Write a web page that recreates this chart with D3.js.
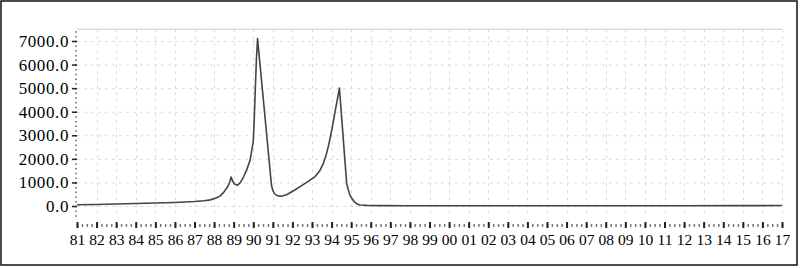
<!DOCTYPE html>
<html>
<head>
<meta charset="utf-8">
<script src="https://cdn.jsdelivr.net/npm/d3@7"></script>
<style>
  body { margin: 0; background: #fff; }
  svg { display: block; }
</style>
</head>
<body>
<svg id="chart" width="800" height="268"></svg>
<script>
// decimal year of each reading, and the value
const dates = [1981.0, 1982.0, 1983.0, 1984.0, 1985.0, 1986.0, 1987.0, 1987.5, 1987.8,
  1988.1, 1988.3, 1988.5, 1988.7, 1988.8, 1988.87, 1988.95, 1989.05, 1989.2, 1989.35,
  1989.5, 1989.65, 1989.84, 1990.0, 1990.04, 1990.1, 1990.16, 1990.22, 1990.93, 1991.0,
  1991.08, 1991.18, 1991.3, 1991.47, 1991.7, 1991.88, 1992.1, 1992.39, 1992.65, 1992.9, 1993.16,
  1993.4, 1993.58, 1993.72, 1993.86, 1994.01, 1994.2, 1994.4, 1994.77, 1994.85, 1994.93, 1995.03,
  1995.15, 1995.3, 1995.45, 1995.8, 1996.5, 1998, 2000, 2003, 2006, 2009, 2012, 2015, 2017];
const values = [50, 65, 85, 105, 125, 150, 190, 225, 260,
  340, 420, 590, 830, 1020, 1230, 1050, 930, 880, 1000,
  1230, 1500, 1950, 2730, 3440, 4840, 6200, 7100, 880, 660,
  530, 460, 425, 420, 480, 560, 670, 820, 960, 1100, 1250,
  1500, 1810, 2150, 2620, 3225, 4100, 5000, 960, 700, 480, 325,
  190, 90, 45, 25, 18, 12, 10, 12, 8, 8, 10, 15, 20];

const yearTicks = d3.range(1981, 2018);
const yearLabels = ['81','82','83','84','85','86','87','88','89','90','91','92','93','94','95',
  '96','97','98','99','00','01','02','03','04','05','06','07','08','09','10','11','12','13',
  '14','15','16','17'];
const valueTicks = [0, 1000, 2000, 3000, 4000, 5000, 6000, 7000];

const svg = d3.select('#chart');

const x = d3.scaleLinear().domain([1981, 2017]).range([77, 782]);
const y = d3.scaleLinear().domain([0, 7000]).range([206, 41]);

// outer frame
svg.append('rect')
  .attr('x', 1).attr('y', 1).attr('width', 796).attr('height', 264)
  .attr('fill', 'none').attr('stroke', '#111').attr('stroke-width', 1.5);

// top edge of the plot
svg.append('line')
  .attr('x1', x(1981)).attr('x2', x(2017))
  .attr('y1', y(7500)).attr('y2', y(7500))
  .attr('stroke', '#ccc').attr('stroke-width', 1);

// dashed grid
const grid = svg.append('g').attr('stroke', '#dcdcdc').attr('stroke-dasharray', '3,4');
grid.selectAll('line.h').data(valueTicks).enter().append('line')
  .attr('class', 'h')
  .attr('x1', x(1981)).attr('x2', x(2017))
  .attr('y1', d => y(d) + 0.5).attr('y2', d => y(d) + 0.5);
grid.selectAll('line.v').data(yearTicks.slice(1)).enter().append('line')
  .attr('class', 'v')
  .attr('x1', d => Math.round(x(d)) + 0.5).attr('x2', d => Math.round(x(d)) + 0.5)
  .attr('y1', y(7500)).attr('y2', 217);

// y axis: minor dots then major ticks with labels
const yMinor = svg.append('g').attr('transform', 'translate(77,0)')
  .call(d3.axisLeft(y).tickValues(d3.range(-400, 7501, 200)).tickSize(2).tickFormat(''));
yMinor.select('.domain').remove();
yMinor.selectAll('line').attr('stroke', '#888').attr('stroke-width', 1.5);

const yAxis = svg.append('g').attr('transform', 'translate(77,0)')
  .call(d3.axisLeft(y).tickValues(valueTicks).tickSize(5).tickPadding(3)
    .tickFormat(d3.format('.1f')));
yAxis.select('.domain').remove();
yAxis.selectAll('line').attr('stroke', '#222').attr('stroke-width', 1.5);
yAxis.selectAll('text')
  .attr('font-family', '"Liberation Serif", serif').attr('font-size', 17)
  .attr('letter-spacing', 0.6).attr('fill', '#000');

// x axis: quarterly dots then yearly ticks with labels
const xMinor = svg.append('g').attr('transform', 'translate(0,224)')
  .call(d3.axisBottom(x).tickValues(d3.range(1981, 2017.01, 0.25)).tickSize(3).tickFormat(''));
xMinor.select('.domain').remove();
xMinor.selectAll('line').attr('stroke', '#777').attr('stroke-width', 1.5);

const xAxis = svg.append('g').attr('transform', 'translate(0,222)')
  .call(d3.axisBottom(x).tickValues(yearTicks).tickSize(6).tickPadding(6)
    .tickFormat((d, i) => yearLabels[i]));
xAxis.select('.domain').remove();
xAxis.selectAll('line').attr('stroke', '#222').attr('stroke-width', 2);
xAxis.selectAll('text')
  .attr('font-family', '"Liberation Serif", serif').attr('font-size', 15.5).attr('fill', '#000');

// the series
const line = d3.line()
  .x((d, i) => x(dates[i]))
  .y(d => y(d));

svg.append('path')
  .datum(values)
  .attr('fill', 'none')
  .attr('stroke', '#444')
  .attr('stroke-width', 1.6)
  .attr('stroke-linejoin', 'round')
  .attr('d', line);
</script>
</body>
</html>
